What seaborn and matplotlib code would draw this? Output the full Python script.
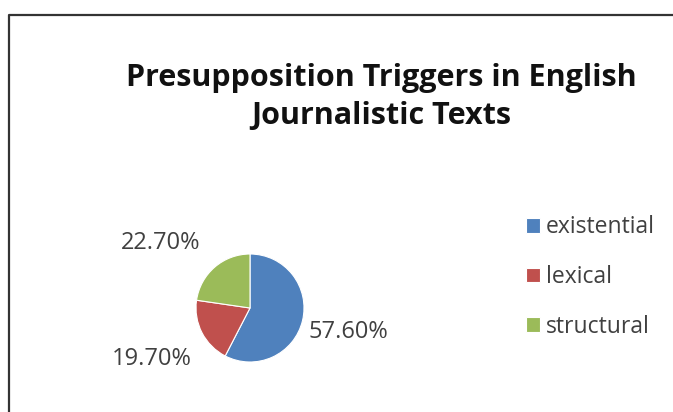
import matplotlib
matplotlib.use("Agg")
import matplotlib.pyplot as plt
import seaborn as sns
import numpy as np
from matplotlib.lines import Line2D

categories = ["existential", "lexical", "structural"]
values = [57.6, 19.7, 22.7]
pct_labels = ["57.60%", "19.70%", "22.70%"]
colors = ["#4F81BD", "#C0504D", "#9BBB59"]
title = "Presupposition Triggers in English\nJournalistic Texts"

sns.set_theme(style="white")
plt.rcParams["font.family"] = ["Open Sans", "DejaVu Sans"]

fig = plt.figure(figsize=(6.73, 4.12), dpi=100)
W, H = 673, 412

# pie axes (center ~ (250,308), radius ~54 px)
r = 54
cx, cy = 250, 308
ax = fig.add_axes([(cx - r) / W, (H - cy - r) / H, 2 * r / W, 2 * r / H])
wedges, _ = ax.pie(values, colors=colors, startangle=90, counterclock=False,
                   wedgeprops=dict(edgecolor="white", linewidth=0.8))
ax.set_xlim(-1, 1)
ax.set_ylim(-1, 1)
ax.set_aspect("equal")
ax.axis("off")

# percentage labels placed by wedge mid-angle
nudge = [(0.0, 1.88), (0.0, 2.05), (13.0, 2.05)]
for w, lab, (da, dist) in zip(wedges, pct_labels, nudge):
    ang = np.deg2rad((w.theta1 + w.theta2) / 2 + da)
    ax.text(dist * np.cos(ang), dist * np.sin(ang), lab, ha="center", va="center",
            fontsize=17, color="#404040", clip_on=False)

# legend
leg = fig.legend(wedges, categories, loc="center left",
                 bbox_to_anchor=(526 / W, (H - 277) / H), frameon=False,
                 borderpad=0, borderaxespad=0,
                 fontsize=16.5, labelcolor="#404040", handlelength=0.62,
                 handleheight=0.62, handletextpad=0.25, labelspacing=1.12)

fig.text(381 / W, (H - 97) / H, title, ha="center", va="center",
         fontsize=22, fontweight="bold", color="#111111", linespacing=1.37)

# chart border (top and left visible)
fig.add_artist(Line2D([9 / W, 9 / W, 1.0], [0.0, (H - 15) / H, (H - 15) / H],
                      transform=fig.transFigure, color="#333333", linewidth=1.6))

fig.savefig("out.png", dpi=100)
